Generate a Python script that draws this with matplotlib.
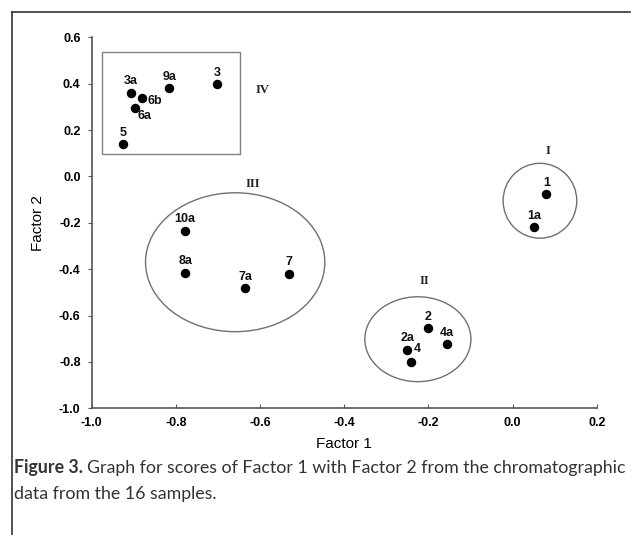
import matplotlib
matplotlib.use("Agg")
import matplotlib.pyplot as plt
from matplotlib.patches import Ellipse, Rectangle
from matplotlib.lines import Line2D

# sample scores (Factor 1, Factor 2)
samples = ['1', '1a', '2', '2a', '4', '4a', '10a', '8a', '7a', '7',
           '3a', '6b', '6a', '9a', '3', '5']
factor1 = [0.080, 0.051, -0.200, -0.250, -0.241, -0.157, -0.778, -0.778, -0.635, -0.531,
           -0.907, -0.880, -0.897, -0.816, -0.702, -0.926]
factor2 = [-0.077, -0.220, -0.654, -0.747, -0.799, -0.723, -0.234, -0.415, -0.483, -0.421,
           0.360, 0.337, 0.296, 0.380, 0.398, 0.138]

# groups: ellipses (center x, center y, width, height) and the box of group IV
group_names = ['I', 'II', 'III']
group_cx = [0.065, -0.225, -0.659]
group_cy = [-0.105, -0.702, -0.370]
group_w = [0.175, 0.252, 0.426]
group_h = [0.323, 0.366, 0.599]
group_label_x = [0.083, -0.210, -0.616]
group_label_y = [0.111, -0.451, -0.034]
box_iv = [-0.976, 0.096, 0.328, 0.442]   # x0, y0, width, height
box_iv_label = [-0.595, 0.373]

xticks = [-1.0, -0.8, -0.6, -0.4, -0.2, 0.0, 0.2]
yticks = [-1.0, -0.8, -0.6, -0.4, -0.2, 0.0, 0.2, 0.4, 0.6]

caption_bold = 'Figure 3.'
caption_line1 = 'Graph for scores of Factor 1 with Factor 2 from the chromatographic'
caption_line2 = 'data from the 16 samples.'

# label placement (offset in points, alignment)
label_pos = {'6b': (4, -2, 'left', 'center'),
             '6a': (2, -6, 'left', 'center'),
             '4': (2, 9, 'left', 'center')}

fig = plt.figure(figsize=(6.41, 5.35), dpi=100)
ax = fig.add_axes([0.143, 0.2368, 0.788, 0.6935])

ax.plot(factor1, factor2, 'o', color='black', markersize=5.8, zorder=3)
for name, x, y in zip(samples, factor1, factor2):
    dx, dy, ha, va = label_pos.get(name, (0, 4, 'center', 'bottom'))
    ax.annotate(name, (x, y), xytext=(dx, dy), textcoords='offset points',
                ha=ha, va=va, fontsize=9, fontweight='bold',
                family='Liberation Sans', color='#111111')

for name, cx, cy, w, h, lx, ly in zip(group_names, group_cx, group_cy, group_w, group_h,
                                      group_label_x, group_label_y):
    ax.add_patch(Ellipse((cx, cy), w, h, fill=False, edgecolor='#707070', linewidth=1.0))
    ax.text(lx, ly, name, ha='center', va='center', fontsize=9, fontweight='bold',
            family='Liberation Serif', color='#222222')

ax.add_patch(Rectangle((box_iv[0], box_iv[1]), box_iv[2], box_iv[3], fill=False,
                       edgecolor='#808080', linewidth=1.0))
ax.text(box_iv_label[0], box_iv_label[1], 'IV', ha='center', va='center', fontsize=9,
        fontweight='bold', family='Liberation Serif', color='#222222')

ax.set_xlim(-1.0, 0.2)
ax.set_ylim(-1.0, 0.6)
ax.set_xticks(xticks)
ax.set_yticks(yticks)
ax.set_xticklabels(['%.1f' % v for v in xticks])
ax.set_yticklabels(['%.1f' % v for v in yticks])
for lab in ax.get_xticklabels() + ax.get_yticklabels():
    lab.set_fontweight('bold')
    lab.set_family('Liberation Sans')
    lab.set_fontsize(9)
ax.tick_params(axis='x', direction='in', length=3, pad=6, color='#555555')
ax.tick_params(axis='y', direction='out', length=3, pad=5, color='#555555')
ax.spines['top'].set_visible(False)
ax.spines['right'].set_visible(False)
for s in ['left', 'bottom']:
    ax.spines[s].set_color('#555555')
    ax.spines[s].set_linewidth(1.2)

ax.set_xlabel('Factor 1', fontsize=11, family='Liberation Sans', labelpad=6)
ax.set_ylabel('Factor 2', fontsize=11, family='Liberation Sans', labelpad=10)

# outer frame lines
fig.add_artist(Line2D([11.5 / 641, 11.5 / 641], [0, 1 - 12 / 535], transform=fig.transFigure,
                      color='#333333', linewidth=1.2))
fig.add_artist(Line2D([11.5 / 641, 630 / 641], [1 - 12 / 535, 1 - 12 / 535],
                      transform=fig.transFigure, color='#333333', linewidth=1.2))

# caption, sized so the first line spans the same width as in the figure
cap_font = 'Lato'
size = 12.5
y1 = 1 - 468 / 535
y2 = 1 - 494 / 535
t1 = fig.text(14 / 641, y1, caption_bold, fontsize=size, fontweight='bold',
              family=cap_font, color='#333333', va='center', ha='left')
t2 = fig.text(0, y1, caption_line1, fontsize=size, family=cap_font, color='#333333',
              va='center', ha='left')
t3 = fig.text(14 / 641, y2, caption_line2, fontsize=size, family=cap_font,
              color='#333333', va='center', ha='left')
for _ in range(3):
    fig.canvas.draw()
    bb = t1.get_window_extent()
    t2.set_x((bb.x1 + 0.3 * size) / fig.bbox.width)
    fig.canvas.draw()
    right = t2.get_window_extent().x1
    size = size * (627 - 14) / (right - 14)
    for t in (t1, t2, t3):
        t.set_fontsize(size)
fig.canvas.draw()
t2.set_x((t1.get_window_extent().x1 + 0.3 * size) / fig.bbox.width)

fig.savefig('out.png', dpi=100)
